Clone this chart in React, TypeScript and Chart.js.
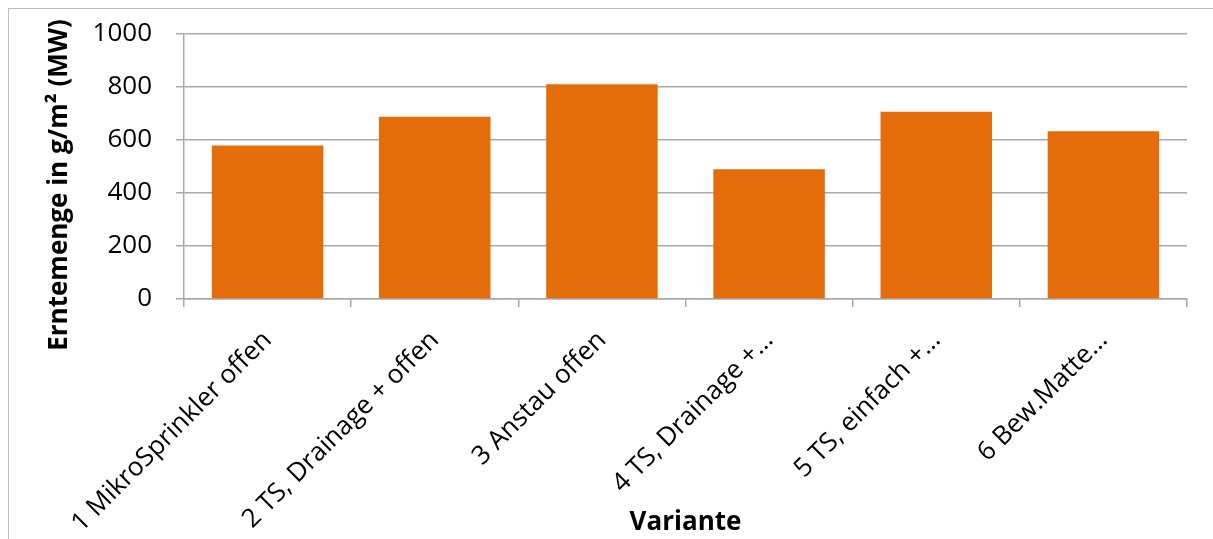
import React, { useEffect, useRef } from "react";
import { Chart, registerables } from "chart.js";

Chart.register(...registerables);

// Harvest yield per variant (mean values, g/m²)
const categories = [
  "1 MikroSprinkler offen",
  "2 TS, Drainage + offen",
  "3 Anstau offen",
  "4 TS, Drainage +…",
  "5 TS, einfach +…",
  "6 Bew.Matte…",
];
const yields = [579, 688, 810, 490, 707, 633];
const yTicks = [0, 200, 400, 600, 800, 1000];
const yTitle = "Erntemenge in g/m² (MW)";
const xTitle = "Variante";

const FONT = "'Open Sans', 'Noto Sans', sans-serif";
const BAR_COLOR = "#E46C0A";
const GRID_COLOR = "#A9A9A9";

// Vertical axis title, centred on the whole chart height
const yTitlePlugin = {
  id: "yTitleText",
  afterDraw(chart: any) {
    const ctx = chart.ctx;
    ctx.save();
    ctx.font = `bold 26px ${FONT}`;
    ctx.fillStyle = "#000";
    ctx.textAlign = "center";
    ctx.textBaseline = "middle";
    ctx.translate(51, 176);
    ctx.rotate(-Math.PI / 2);
    ctx.fillText(yTitle, 0, 0);
    ctx.restore();
  },
};

export default function App() {
  const canvasRef = useRef<HTMLCanvasElement | null>(null);

  useEffect(() => {
    if (!canvasRef.current) return;
    const chart = new Chart(canvasRef.current, {
      type: "bar",
      data: {
        labels: categories,
        datasets: [
          {
            data: yields,
            backgroundColor: BAR_COLOR,
            borderWidth: 0,
            barPercentage: 0.667,
            categoryPercentage: 1,
          },
        ],
      },
      options: {
        animation: false,
        responsive: true,
        maintainAspectRatio: false,
        layout: { padding: { left: 0, top: 25, right: 26, bottom: 0 } },
        plugins: {
          legend: { display: false },
          tooltip: { enabled: false },
        },
        scales: {
          x: {
            afterFit(scale: any) {
              scale.height = 240;
            },
            grid: {
              display: true,
              drawOnChartArea: false,
              drawTicks: true,
              tickLength: 8,
              color: GRID_COLOR,
              lineWidth: 1.5,
              offset: true,
            },
            border: { display: true, color: GRID_COLOR, width: 1.5 },
            ticks: {
              autoSkip: false,
              minRotation: 45,
              maxRotation: 45,
              padding: 18,
              color: "#000",
              font: { family: FONT, size: 26 },
            },
            title: {
              display: true,
              text: xTitle,
              color: "#000",
              font: { family: FONT, size: 26, weight: "bold" },
              padding: { top: 0, bottom: 1 },
            },
          },
          y: {
            min: 0,
            max: 1000,
            afterFit(scale: any) {
              scale.width = 175;
              scale.paddingTop = 0;
              scale.paddingBottom = 0;
            },
            afterBuildTicks(scale: any) {
              scale.ticks = yTicks.map((v) => ({ value: v }));
            },
            grid: {
              color: GRID_COLOR,
              lineWidth: 1.5,
              drawTicks: true,
              tickLength: 8,
            },
            border: { display: true, color: GRID_COLOR, width: 1.5 },
            ticks: {
              padding: 24,
              color: "#000",
              font: { family: FONT, size: 26 },
              callback: (value: any) => String(value),
            },
          },
        },
      },
      plugins: [yTitlePlugin],
    });
    return () => chart.destroy();
  }, []);

  return (
    <div
      style={{
        position: "fixed",
        left: 8,
        top: 8,
        width: 1205,
        height: 531,
        boxSizing: "border-box",
        borderLeft: "1px solid #BDBDBD",
        borderTop: "1px solid #BDBDBD",
        background: "#fff",
      }}
    >
      <div style={{ position: "relative", width: "100%", height: "100%" }}>
        <canvas ref={canvasRef} />
      </div>
    </div>
  );
}
